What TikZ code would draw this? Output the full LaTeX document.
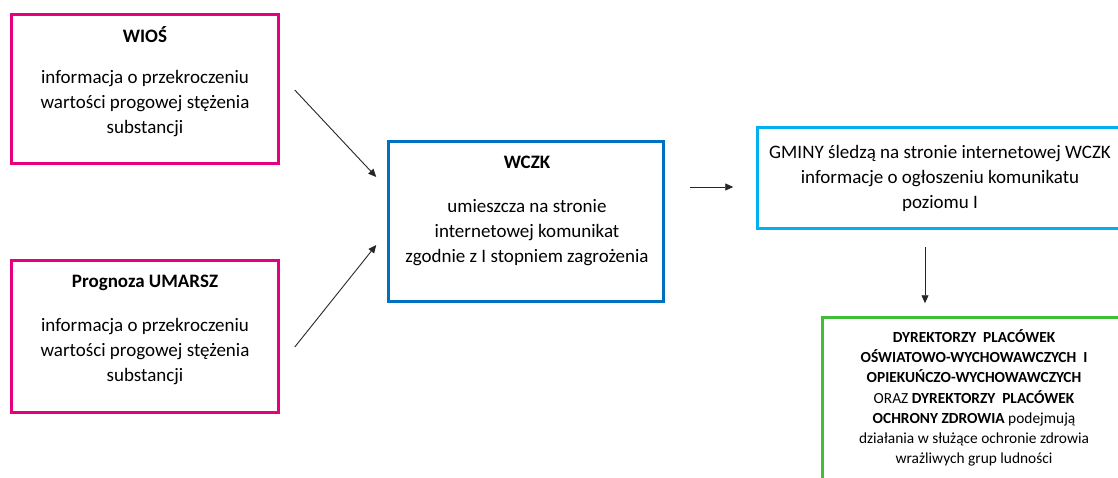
\documentclass[tikz,border=0pt]{standalone}
\usepackage{fontspec}
\setmainfont{Carlito}
\usetikzlibrary{calc,arrows.meta}
\definecolor{cpink}{RGB}{230,0,126}
\definecolor{cblue}{RGB}{0,112,192}
\definecolor{clblue}{RGB}{0,176,240}
\definecolor{cgreen}{RGB}{64,190,56}
\tikzset{
  box/.style={draw, line width=3.5pt, rectangle, inner sep=0pt},
  title/.style={font=\fontsize{19}{25}\selectfont\bfseries, inner sep=0pt},
  body/.style={font=\fontsize{19}{25}\selectfont, align=center, inner sep=0pt},
  small/.style={font=\fontsize{15.4}{20.2}\selectfont, align=center, inner sep=0pt},
  arr/.style={draw=black!85, line width=0.9pt, -{Triangle[length=8pt,width=7pt]}}
}
\begin{document}
\begin{tikzpicture}[x=1pt,y=-1pt]
\useasboundingbox (0,0) rectangle (1118,477);
\clip (0,0) rectangle (1118,477);
\fill[white] (0,0) rectangle (1118,477);
% boxes
\node[box, draw=cpink, minimum width=267pt, minimum height=149pt] (wios) at (145,89) {};
\node[box, draw=cpink, minimum width=267pt, minimum height=152pt] (umarsz) at (145,336.5) {};
\node[box, draw=cblue, minimum width=275pt, minimum height=160pt] (wczk) at (526,221.5) {};
\node[box, draw=clblue, minimum width=367pt, minimum height=101pt] (gminy) at (941,178) {};
\node[box, draw=cgreen, minimum width=303pt, minimum height=185pt] (green) at (974,410) {};
% texts
\node[title] (wiost) at (145,35) {WIOŚ};
\node[body] (wiosb) at (145,104) {informacja o przekroczeniu\\wartości progowej stężenia\\substancji};
\node[title] (umarszt) at (145,283) {Prognoza UMARSZ};
\node[body] (umarszb) at (145,352) {informacja o przekroczeniu\\wartości progowej stężenia\\substancji};
\node[title] (wczkt) at (527,162) {WCZK};
\node[body] (wczkb) at (527,233) {umieszcza na stronie\\internetowej komunikat\\zgodnie z I stopniem zagrożenia};
\node[body] (gminyb) at (940,178) {GMINY śledzą na stronie internetowej WCZK\\informacje o ogłoszeniu komunikatu\\poziomu I};
\node[small] (greenb) at (974,398) {\textbf{DYREKTORZY\ \ PLACÓWEK}\\\textbf{OŚWIATOWO-WYCHOWAWCZYCH\ \ I}\\\textbf{OPIEKUŃCZO-WYCHOWAWCZYCH}\\ORAZ \textbf{DYREKTORZY\ \ PLACÓWEK}\\\textbf{OCHRONY ZDROWIA} podejmują\\działania w służące ochronie zdrowia\\wrażliwych grup ludności};
% arrows
\draw[arr] ($(wios.east)+(14.5,1)$) -- ($(wczk.west)+(-10.5,-44.5)$);
\draw[arr] ($(umarsz.east)+(14.5,10.5)$) -- ($(wczk.west)+(-10.5,23.5)$);
\draw[arr] ($(wczk.east)+(24.5,-34.5)$) -- ($(gminy.west)+(-22.5,9)$);
\draw[arr] ($(gminy.south)+(-16,16.5)$) -- ($(green.north)+(-49,-12.5)$);
\end{tikzpicture}
\end{document}
